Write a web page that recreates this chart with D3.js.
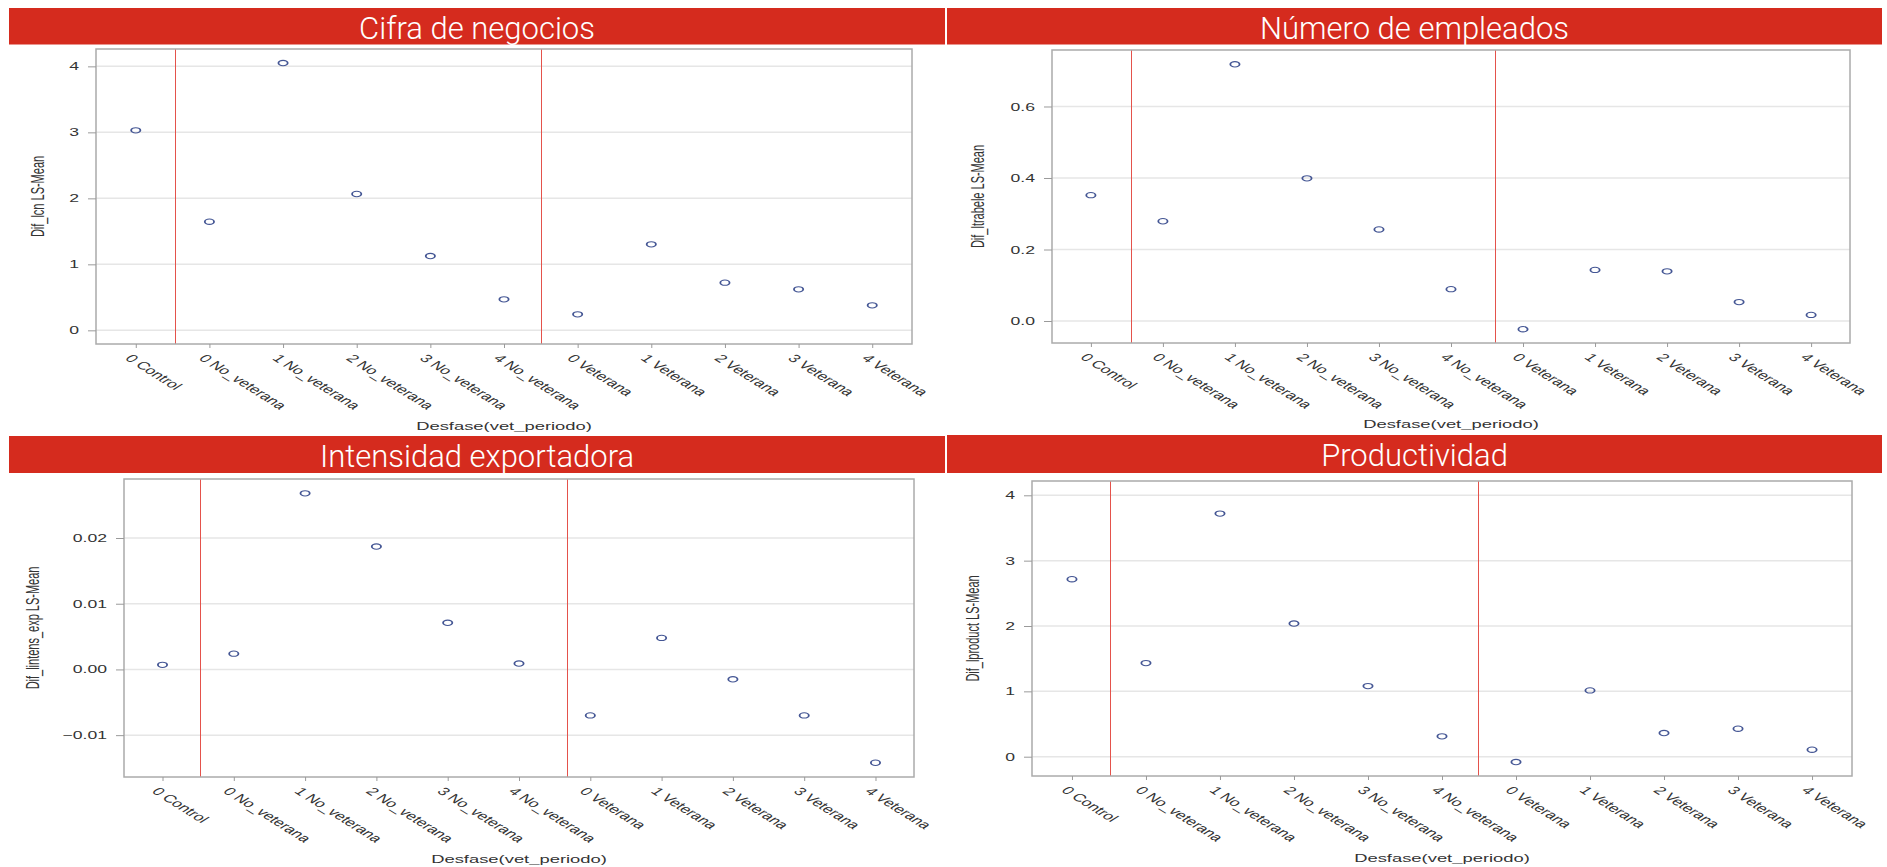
<!DOCTYPE html>
<html><head><meta charset="utf-8">
<script src="https://cdn.jsdelivr.net/npm/d3@7/dist/d3.min.js"></script>
<style>html,body{margin:0;padding:0;background:#fff;overflow:hidden}svg{display:block}</style>
</head><body>
<svg id="chart" width="1887" height="867"></svg>
<script>
// ---------- DATA ----------
const categories = ["0 Control","0 No_veterana","1 No_veterana","2 No_veterana","3 No_veterana","4 No_veterana",
                    "0 Veterana","1 Veterana","2 Veterana","3 Veterana","4 Veterana"];
const panelTitles = ["Cifra de negocios","Número de empleados","Intensidad exportadora","Productividad"];
const yTitles = ["Dif_lcn LS-Mean","Dif_ltrabele LS-Mean","Dif_lintens_exp LS-Mean","Dif_lproduct LS-Mean"];
const xTitle = "Desfase(vet_periodo)";

const cifraValues     = [3.03, 1.646, 4.05, 2.066, 1.126, 0.47, 0.242, 1.303, 0.722, 0.621, 0.379];
const empleadosValues = [0.352, 0.279, 0.718, 0.399, 0.256, 0.089, -0.023, 0.143, 0.139, 0.053, 0.017];
const exportValues    = [0.0007, 0.0024, 0.0268, 0.0187, 0.0071, 0.0009, -0.0070, 0.0048, -0.0015, -0.0070, -0.0142];
const productValues   = [2.716, 1.432, 3.72, 2.038, 1.080, 0.311, -0.082, 1.014, 0.362, 0.428, 0.107];

const cifraTicks     = [0, 1, 2, 3, 4];
const empleadosTicks = [0, 0.2, 0.4, 0.6];
const exportTicks    = [-0.01, 0, 0.01, 0.02];
const productTicks   = [0, 1, 2, 3, 4];
const tickFormats    = ["d", ".1f", ".2f", "d"];

const cifraRange     = [-0.207, 4.263];
const empleadosRange = [-0.0615, 0.758];
const exportRange    = [-0.01637, 0.02898];
const productRange   = [-0.2955, 4.219];

// reference lines, in category-index units
const cifraRefLines     = [0.53, 5.5];
const empleadosRefLines = [0.55, 5.61];
const exportRefLines    = [0.53, 5.67];
const productRefLines   = [0.51, 5.48];

// ---------- LAYOUT ----------
const layouts = [
  {bx: 9,   by: 8,   bw: 936, bh: 36.5, left: 96,   right: 912,  top: 49,  bottom: 344, yTitleX: 43.6,  xTitleY: 430},
  {bx: 947, by: 8,   bw: 935, bh: 36.5, left: 1052, right: 1850, top: 50,  bottom: 343, yTitleX: 983.5, xTitleY: 428},
  {bx: 9,   by: 436, bw: 936, bh: 37,   left: 124,  right: 914,  top: 479, bottom: 777, yTitleX: 39.3,  xTitleY: 863},
  {bx: 947, by: 435, bw: 935, bh: 38,   left: 1032, right: 1852, top: 481, bottom: 776, yTitleX: 979.2, xTitleY: 862}
];
const panels = [
  {values: cifraValues,     ticks: cifraTicks,     range: cifraRange,     refs: cifraRefLines},
  {values: empleadosValues, ticks: empleadosTicks, range: empleadosRange, refs: empleadosRefLines},
  {values: exportValues,    ticks: exportTicks,    range: exportRange,    refs: exportRefLines},
  {values: productValues,   ticks: productTicks,   range: productRange,   refs: productRefLines}
];

const SX = 1.6;          // horizontal stretch of the original graphic
const FONT = "'Liberation Sans', Arial, sans-serif";
const svg = d3.select("#chart");

panels.forEach((p, i) => {
  const L = layouts[i];
  const g = svg.append("g");

  // banner
  g.append("rect").attr("x", L.bx).attr("y", L.by).attr("width", L.bw).attr("height", L.bh).attr("fill", "#d52b1e");
  g.append("text").attr("x", L.bx + L.bw / 2).attr("y", L.by + 31)
    .attr("text-anchor", "middle").attr("fill", "#fff")
    .style("font-family", "Roboto, sans-serif").style("font-weight", 300).style("font-size", "31px")
    .text(panelTitles[i]);

  const x = d3.scalePoint().domain(categories).range([L.left, L.right]).padding(0.54);
  const y = d3.scaleLinear().domain(p.range).range([L.bottom, L.top]);

  // grid
  g.append("g").selectAll("line").data(p.ticks).join("line")
    .attr("x1", L.left).attr("x2", L.right)
    .attr("y1", d => y(d)).attr("y2", d => y(d))
    .attr("stroke", "#e6e6e6").attr("stroke-width", 1.5);

  // reference lines
  const step = x.step();
  const refX = d => Math.round(x(categories[0]) + d * step) + 0.5;
  g.append("g").selectAll("line").data(p.refs).join("line")
    .attr("x1", refX).attr("x2", refX)
    .attr("y1", L.top).attr("y2", L.bottom)
    .attr("stroke", "#e4524b").attr("stroke-width", 1);

  // frame
  g.append("rect").attr("x", L.left).attr("y", L.top)
    .attr("width", L.right - L.left).attr("height", L.bottom - L.top)
    .attr("fill", "none").attr("stroke", "#ababab").attr("stroke-width", 1.5);

  // y axis
  const ya = g.append("g").attr("transform", `translate(${L.left},0)`)
    .call(d3.axisLeft(y).tickValues(p.ticks).tickFormat(d3.format(tickFormats[i])).tickSize(8).tickPadding(9));
  ya.select(".domain").remove();
  ya.selectAll(".tick line").attr("stroke", "#9a9a9a").attr("stroke-width", 1);
  ya.selectAll(".tick text").attr("x", null)
    .attr("transform", `translate(-17,0) scale(${SX},1)`)
    .attr("fill", "#333").style("font-family", FONT).style("font-size", "11px");

  // x axis
  const xa = g.append("g").attr("transform", `translate(0,${L.bottom})`)
    .call(d3.axisBottom(x).tickSize(4));
  xa.select(".domain").remove();
  xa.selectAll(".tick line").attr("stroke", "#9a9a9a").attr("stroke-width", 1);
  xa.selectAll(".tick text").attr("x", null).attr("y", null).attr("dy", null)
    .attr("text-anchor", "start")
    .attr("transform", `translate(-12,15) scale(${SX},1) rotate(45)`)
    .attr("fill", "#333").style("font-family", FONT).style("font-size", "11px");

  // axis titles
  g.append("text").attr("text-anchor", "middle")
    .attr("transform", `translate(${(L.left + L.right) / 2},${L.xTitleY}) scale(${SX},1)`)
    .attr("fill", "#333").style("font-family", FONT).style("font-size", "11.5px")
    .text(xTitle);
  g.append("text").attr("text-anchor", "middle")
    .attr("transform", `translate(${L.yTitleX},${(L.top + L.bottom) / 2}) scale(${SX},1) rotate(-90)`)
    .attr("fill", "#333").style("font-family", FONT).style("font-size", "11px")
    .text(yTitles[i]);

  // markers
  g.append("g").selectAll("circle").data(p.values).join("circle")
    .attr("r", 2.8)
    .attr("transform", (d, k) => `translate(${x(categories[k])},${y(d)}) scale(1.65,0.95)`)
    .attr("fill", "none").attr("stroke", "#445694").attr("stroke-width", 1.1);
});
</script>
</body></html>
